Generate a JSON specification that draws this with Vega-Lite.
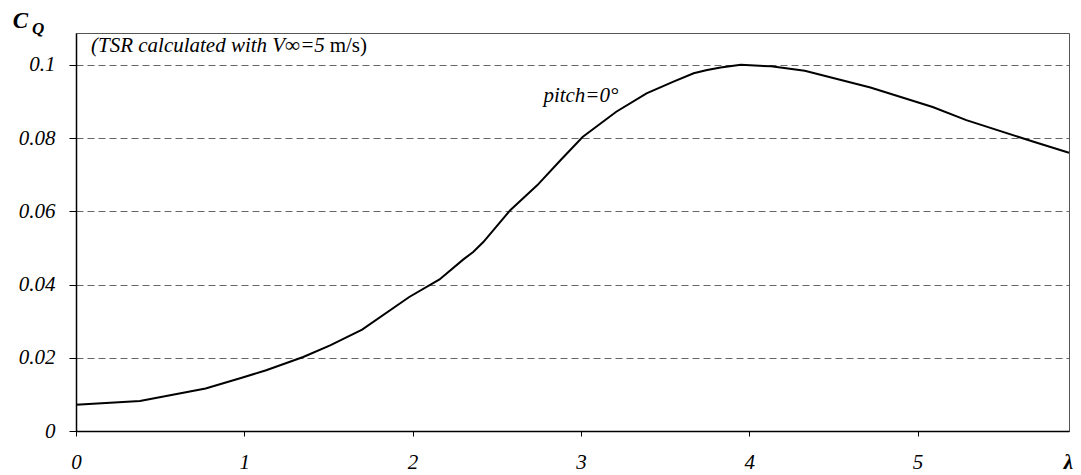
{
  "$schema": "https://vega.github.io/schema/vega-lite/v6.json",
  "width": 993,
  "height": 398,
  "autosize": "none",
  "padding": {"left": 76, "top": 33, "right": 12, "bottom": 44},
  "background": "white",
  "config": {
    "view": {"stroke": "#555555", "strokeWidth": 1},
    "font": "'Liberation Serif', 'Times New Roman', serif"
  },
  "datasets": {
    "curve": [
      {"lambda": 0.0, "cq": 0.0072},
      {"lambda": 0.38, "cq": 0.0082},
      {"lambda": 0.77, "cq": 0.0116},
      {"lambda": 0.99, "cq": 0.0146},
      {"lambda": 1.13, "cq": 0.0166},
      {"lambda": 1.35, "cq": 0.0202},
      {"lambda": 1.51, "cq": 0.0234},
      {"lambda": 1.70, "cq": 0.0277},
      {"lambda": 1.98, "cq": 0.0366},
      {"lambda": 2.16, "cq": 0.0414},
      {"lambda": 2.30, "cq": 0.0468},
      {"lambda": 2.36, "cq": 0.0489},
      {"lambda": 2.42, "cq": 0.0516},
      {"lambda": 2.58, "cq": 0.0603},
      {"lambda": 2.74, "cq": 0.0671},
      {"lambda": 2.88, "cq": 0.0740},
      {"lambda": 3.01, "cq": 0.0803},
      {"lambda": 3.21, "cq": 0.0872},
      {"lambda": 3.39, "cq": 0.0922},
      {"lambda": 3.55, "cq": 0.0954},
      {"lambda": 3.67, "cq": 0.0977},
      {"lambda": 3.75, "cq": 0.0986},
      {"lambda": 3.83, "cq": 0.0993},
      {"lambda": 3.95, "cq": 0.1000},
      {"lambda": 4.13, "cq": 0.0996},
      {"lambda": 4.33, "cq": 0.0984},
      {"lambda": 4.72, "cq": 0.0938},
      {"lambda": 5.09, "cq": 0.0885},
      {"lambda": 5.29, "cq": 0.0849},
      {"lambda": 5.69, "cq": 0.0790},
      {"lambda": 5.90, "cq": 0.0760}
    ],
    "one": [{}]
  },
  "layer": [
    {
      "data": {"name": "curve"},
      "mark": {"type": "line", "color": "black", "strokeWidth": 2},
      "encoding": {
        "x": {
          "field": "lambda",
          "type": "quantitative",
          "scale": {"domain": [0, 5.9], "nice": false, "zero": false},
          "axis": {
            "values": [0, 1, 2, 3, 4, 5],
            "format": "d",
            "grid": false,
            "domainColor": "black",
            "domainWidth": 1.5,
            "tickColor": "black",
            "tickSize": 5,
            "tickWidth": 1,
            "labelFont": "'Liberation Serif', 'Times New Roman', serif",
            "labelFontStyle": "italic",
            "labelFontSize": 21,
            "labelColor": "black",
            "labelPadding": 15,
            "labelFlush": false,
            "title": "λ",
            "titleFont": "'Liberation Serif', 'Times New Roman', serif",
            "titleFontSize": 21,
            "titleFontWeight": "bold",
            "titleFontStyle": "italic",
            "titleColor": "black",
            "titleAngle": 0,
            "titleAlign": "center",
            "titleBaseline": "alphabetic",
            "titleX": 992,
            "titleY": 37
          }
        },
        "y": {
          "field": "cq",
          "type": "quantitative",
          "scale": {"domain": [0, 0.1087], "nice": false},
          "axis": {
            "values": [0, 0.02, 0.04, 0.06, 0.08, 0.1],
            "format": "~g",
            "grid": true,
            "gridColor": "#666666",
            "gridDash": [7, 4],
            "gridWidth": 1,
            "domainColor": "black",
            "domainWidth": 1.5,
            "tickColor": "black",
            "tickSize": 7,
            "tickWidth": 1,
            "labelFont": "'Liberation Serif', 'Times New Roman', serif",
            "labelFontStyle": "italic",
            "labelFontSize": 21,
            "labelColor": "black",
            "labelPadding": 14,
            "labelFlush": false,
            "title": "C",
            "titleFont": "'Liberation Serif', 'Times New Roman', serif",
            "titleFontSize": 23,
            "titleFontWeight": "bold",
            "titleFontStyle": "italic",
            "titleColor": "black",
            "titleAngle": 0,
            "titleAlign": "center",
            "titleBaseline": "alphabetic",
            "titleX": -56,
            "titleY": -6
          }
        }
      }
    },
    {
      "data": {"name": "one"},
      "mark": {"type": "text", "font": "'Liberation Serif', 'Times New Roman', serif", "fontStyle": "italic", "fontWeight": "bold", "fontSize": 17, "color": "black", "align": "center", "baseline": "middle"},
      "encoding": {
        "x": {"datum": -0.225, "type": "quantitative"},
        "y": {"datum": 0.1098, "type": "quantitative"},
        "text": {"value": "Q"}
      }
    },
    {
      "data": {"name": "one"},
      "mark": {"type": "text", "font": "'Liberation Serif', 'Times New Roman', serif", "fontStyle": "italic", "fontSize": 21, "color": "black", "align": "center", "baseline": "middle"},
      "encoding": {
        "x": {"datum": 3.0, "type": "quantitative"},
        "y": {"datum": 0.0914, "type": "quantitative"},
        "text": {"value": "pitch=0°"}
      }
    },
    {
      "data": {"name": "one"},
      "mark": {"type": "text", "font": "'Liberation Serif', 'Times New Roman', serif", "fontStyle": "italic", "fontSize": 21, "color": "black", "align": "left", "baseline": "middle"},
      "encoding": {
        "x": {"datum": 0.089, "type": "quantitative"},
        "y": {"datum": 0.1051, "type": "quantitative"},
        "text": {"value": "(TSR calculated with V∞=5"}
      }
    },
    {
      "data": {"name": "one"},
      "mark": {"type": "text", "font": "'Liberation Serif', 'Times New Roman', serif", "fontStyle": "normal", "fontSize": 21, "color": "black", "align": "right", "baseline": "middle"},
      "encoding": {
        "x": {"datum": 1.729, "type": "quantitative"},
        "y": {"datum": 0.1051, "type": "quantitative"},
        "text": {"value": "m/s)"}
      }
    }
  ]
}
